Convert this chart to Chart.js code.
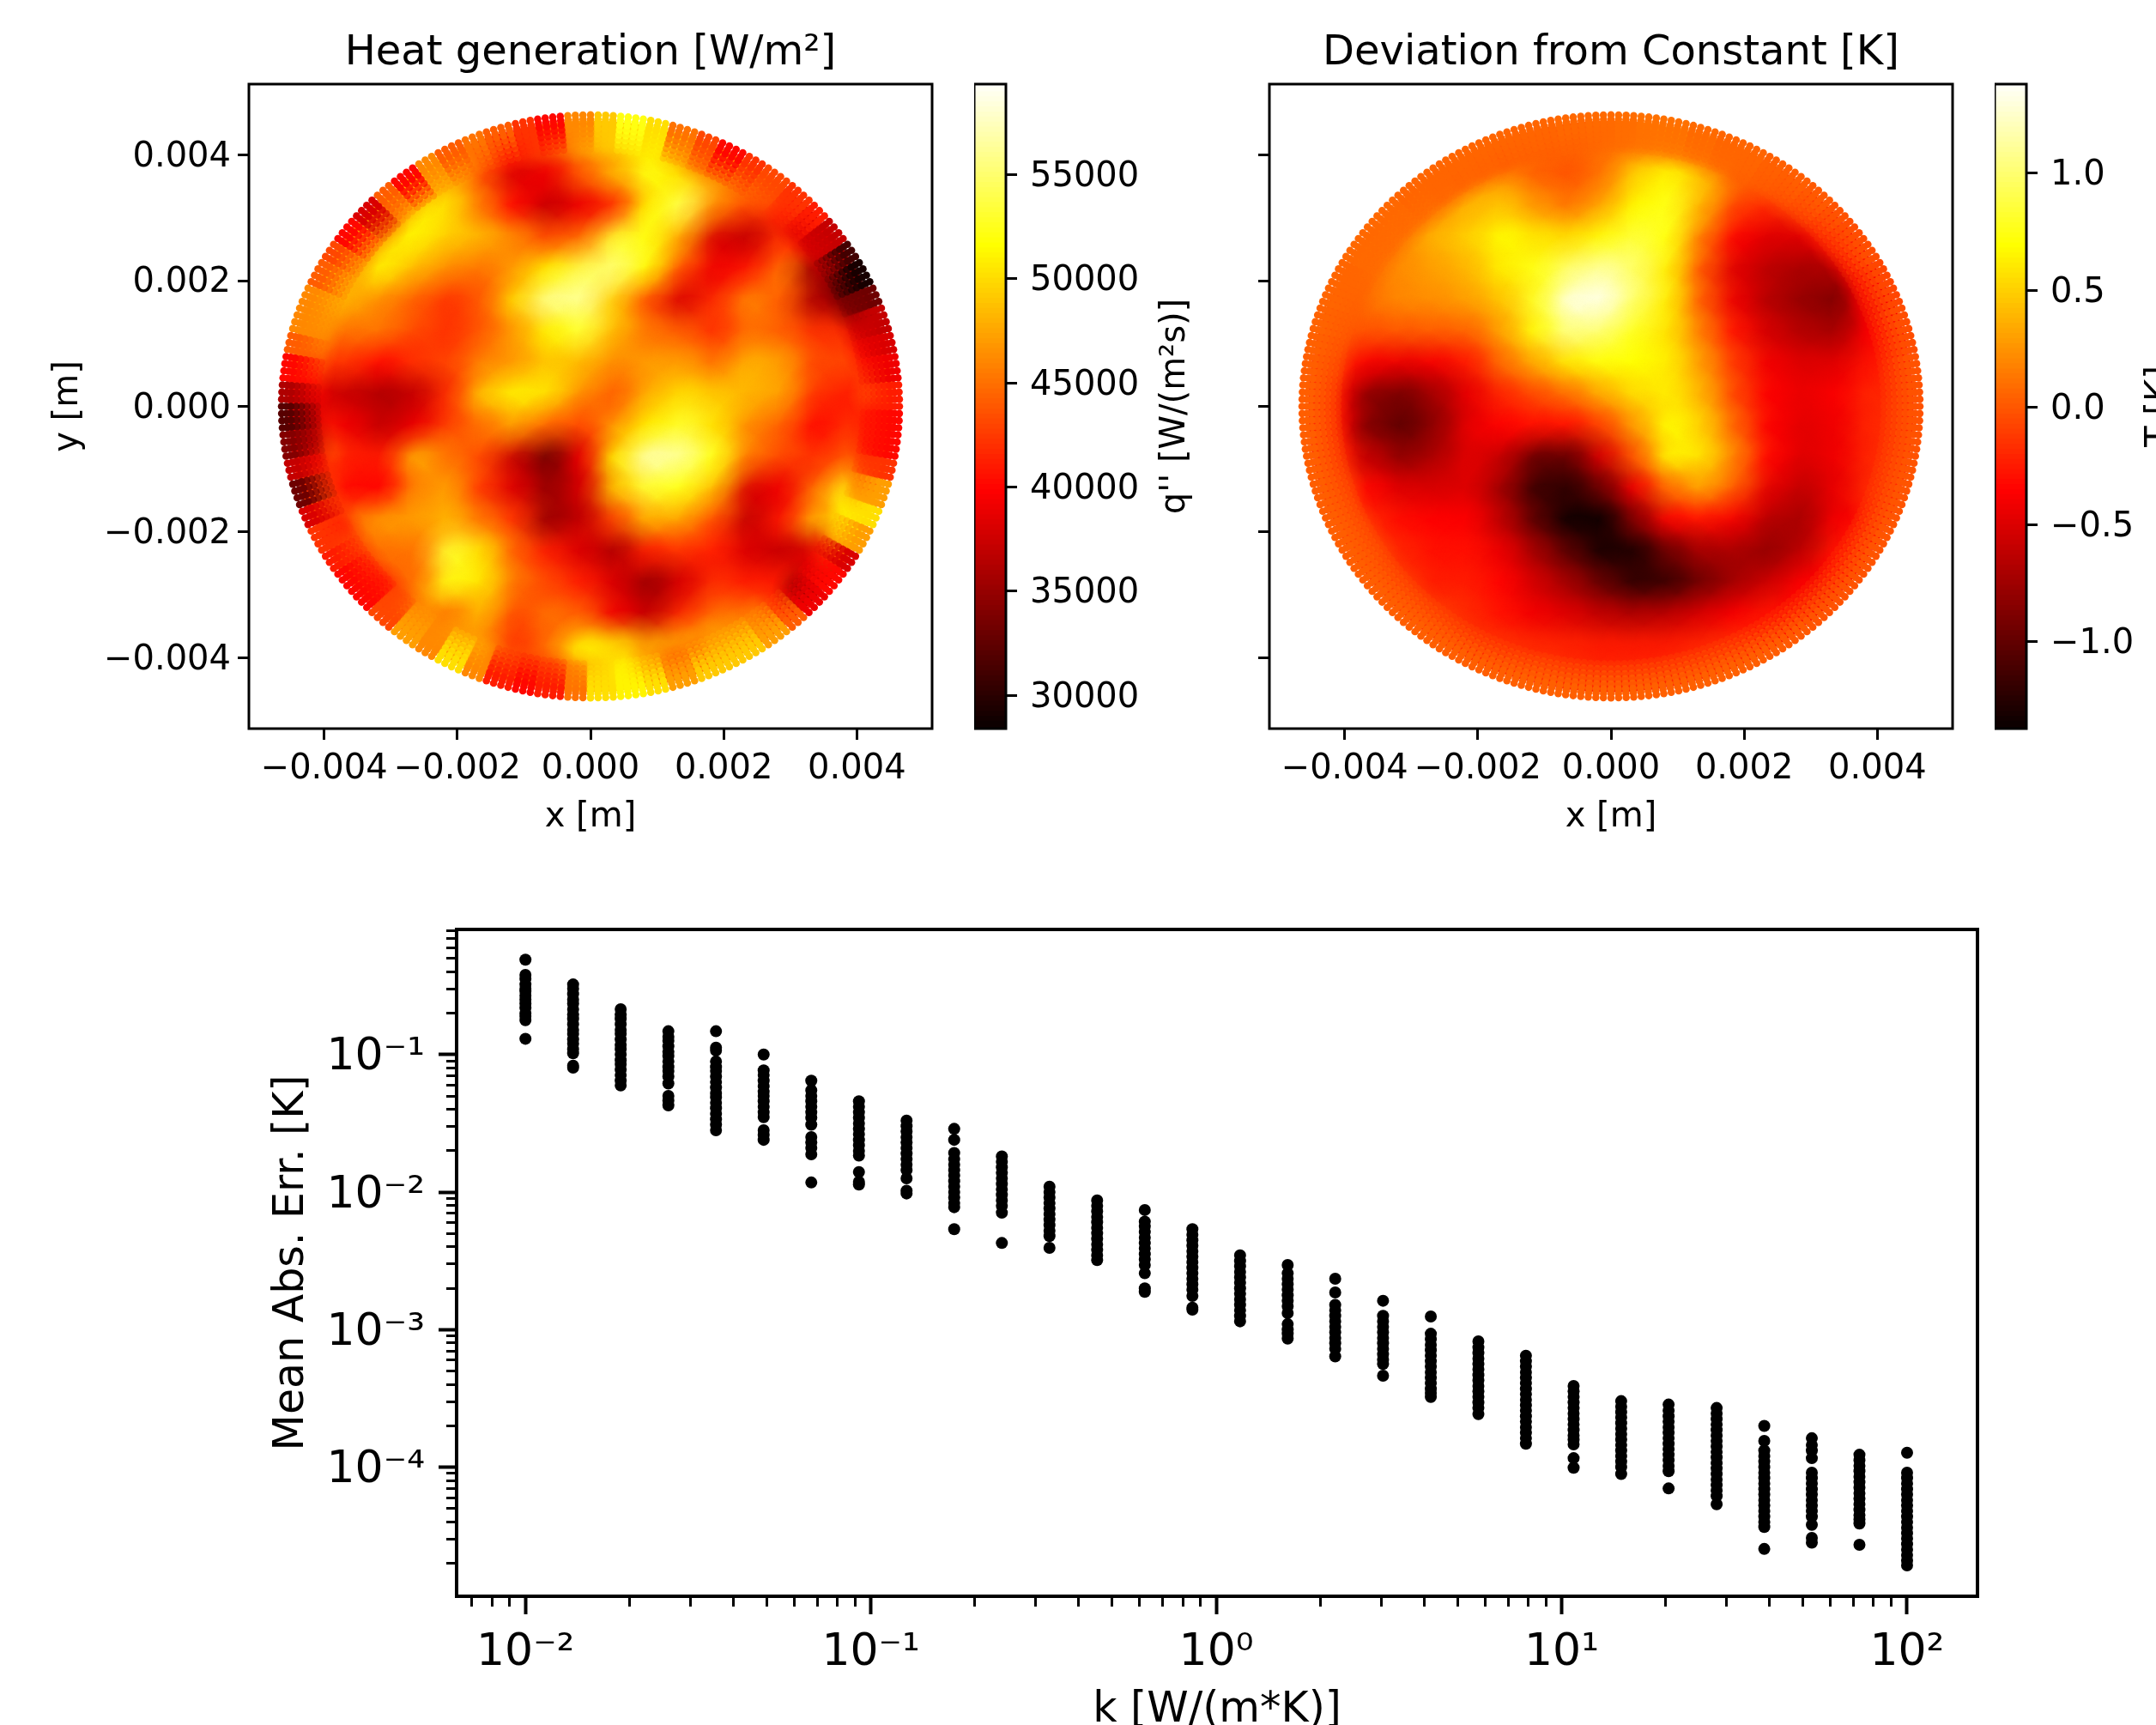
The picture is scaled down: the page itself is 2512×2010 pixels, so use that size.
<!DOCTYPE html>
<html lang="en">
<head>
<meta charset="UTF-8">
<title>Heat generation and conductivity error</title>
<script src="https://cdn.jsdelivr.net/npm/chart.js"></script>
<style>
    html, body { margin: 0; background: #fff; overflow: hidden; width: 2512px; height: 2010px; }
    canvas { position: absolute; }
</style>
</head>
<body>
<canvas id="heat" style="left:0;top:0" width="1376" height="1000"></canvas>
<canvas id="dev" style="left:1280px;top:0" width="1194" height="1000"></canvas>
<canvas id="heatBar" style="left:1135px;top:0" width="280" height="1000"></canvas>
<canvas id="devBar" style="left:2324px;top:0" width="240" height="1000"></canvas>
<canvas id="err" style="left:0;top:1000px" width="2512" height="1060"></canvas>
<script>
// grid of the two maps, metres
const gridX = [-0.0045, -0.004, -0.0035, -0.003, -0.0025, -0.002, -0.0015, -0.001, -0.0005, 0, 0.0005, 0.001, 0.0015, 0.002, 0.0025, 0.003, 0.0035, 0.004, 0.0045];
const gridY = [0.004, 0.0035, 0.003, 0.0025, 0.002, 0.0015, 0.001, 0.0005, 0, -0.0005, -0.001, -0.0015, -0.002, -0.0025, -0.003, -0.0035, -0.004];
const _ = null;

// heat generation, W/m2 / 1000
const heatRows = [
    [_,_,_,_,_,47,46,42,43,47,48,51,50,46,_,_,_,_,_],
    [_,_,_,_,50,48,43,38,39,44,48,52,50,47,44,_,_,_,_],
    [_,_,_,47,51,50,45,40,37,39,42,51,54,46,43,42,_,_,_],
    [_,_,45,50,51,49,48,46,43,45,53,52,47,38,37,42,40,_,_],
    [_,_,48,51,48,46,45,47,51,54,55,51,43,39,41,45,35,_,_],
    [_,45,48,46,44,42,44,50,56,56,49,43,38,42,46,44,36,35,_],
    [_,45,45,45,43,42,44,47,51,53,48,45,44,42,45,44,42,42,_],
    [_,42,42,40,42,43,46,47,49,48,46,47,47,45,48,47,43,43,_],
    [_,38,37,36,37,42,49,51,50,46,44,48,50,49,48,47,42,41,_],
    [_,41,39,37,39,43,45,47,44,43,47,51,53,50,46,44,40,42,_],
    [_,45,41,41,48,45,43,37,33,39,51,57,56,52,45,43,42,44,_],
    [_,42,40,40,46,47,42,38,35,38,49,53,52,48,38,39,45,52,_],
    [_,_,45,47,47,48,45,42,35,37,43,48,47,43,37,41,48,_,_],
    [_,_,44,45,45,53,50,44,41,38,36,41,42,41,38,37,38,_,_],
    [_,_,_,44,45,52,50,45,43,41,38,35,38,42,41,41,_,_,_],
    [_,_,_,_,47,45,48,43,45,44,39,37,42,45,45,_,_,_,_],
    [_,_,_,_,_,48,45,42,45,51,50,47,48,49,_,_,_,_,_]
];
// rim of the heat map, every 5 degrees counter-clockwise from +x: outer edge, then just inside it
const heatRimOuter = [41,39,38,37,33,29,31,37,41,42,43,42,40,43,45,50,52,49,46,40,42,44,45,44,46,40,44,38,40,43,44,46,46,44,40,36,32,34,37,33,38,42,41,40,40,43,47,46,50,46,41,40,41,45,50,51,50,47,49,49,49,47,44,39,40,38,47,50,47,42,40,40];
const heatRimInner = [44,42,40,38,34,33,37,38,38,41,44,45,46,45,48,51,50,49,47,44,42,40,43,47,48,48,47,45,47,47,48,48,47,46,43,40,38,37,40,42,43,41,43,42,41,43,46,46,47,48,44,43,43,46,49,51,47,44,44,46,46,45,41,35,38,42,50,51,46,43,41,41];

// deviation from constant, K
const devRows = [
    [_,_,_,_,_,.15,.15,.08,.05,.12,.25,.3,.25,.1,_,_,_,_,_],
    [_,_,_,_,.15,.25,.22,.03,-.02,.12,.5,.65,.42,.1,0,_,_,_,_],
    [_,_,_,.1,.22,.38,.45,.25,.12,.35,.68,.75,.35,-.1,-.2,-.15,_,_,_],
    [_,_,.08,.22,.38,.5,.68,.58,.55,.72,.85,.72,.1,-.38,-.5,-.5,-.3,_,_],
    [_,_,.15,.22,.3,.4,.62,.75,1,1.12,.95,.6,-.05,-.5,-.65,-.72,-.7,_,_],
    [_,.05,.12,.2,.22,.3,.45,.8,1.3,1.3,.95,.6,-.02,-.45,-.68,-.8,-.88,-.45,_],
    [_,-.02,-.02,0,.02,.05,.32,.72,1.05,.98,.75,.55,.12,-.3,-.55,-.68,-.72,-.4,_],
    [_,-.2,-.4,-.45,-.4,-.25,.1,.35,.6,.7,.68,.6,.25,-.15,-.42,-.5,-.48,-.28,_],
    [_,-.4,-.85,-.92,-.72,-.45,-.2,-.05,.1,.35,.55,.6,.35,-.1,-.38,-.45,-.38,-.2,_],
    [_,-.4,-.9,-1.02,-.8,-.45,-.35,-.3,-.3,-.08,.3,.68,.48,.02,-.38,-.48,-.42,-.2,_],
    [_,-.25,-.62,-.82,-.68,-.48,-.62,-1,-1,-.5,.02,.65,.55,.15,-.35,-.5,-.42,-.2,_],
    [_,-.1,-.35,-.5,-.52,-.5,-.78,-1.18,-1.22,-.95,-.4,.1,.3,-.02,-.48,-.62,-.45,-.18,_],
    [_,_,-.2,-.32,-.36,-.38,-.65,-1.05,-1.35,-1.35,-.85,-.35,-.3,-.42,-.68,-.72,-.4,_,_],
    [_,_,-.12,-.22,-.3,-.3,-.45,-.75,-1.05,-1.3,-1.28,-.95,-.72,-.72,-.8,-.62,-.25,_,_],
    [_,_,_,-.15,-.25,-.25,-.35,-.55,-.75,-1,-1.2,-1.15,-.92,-.72,-.55,-.35,_,_,_],
    [_,_,_,_,-.12,-.2,-.3,-.42,-.5,-.62,-.68,-.62,-.5,-.38,-.25,_,_,_,_],
    [_,_,_,_,_,-.1,-.15,-.2,-.22,-.25,-.25,-.25,-.2,-.15,_,_,_,_,_]
];
const devRimOuter = [-.03,-.03,-.05,-.05,-.08,-.08,-.05,-.05,-.03,0,.02,.03,.05,.05,.07,.1,.1,.08,.07,.06,.05,.05,.05,.05,.05,.05,.05,.06,.06,.06,.05,.05,.04,.03,.02,.02,.02,.02,.02,.02,.02,.02,.02,.02,.02,.02,.02,.02,.02,.02,.03,.03,.03,.03,.03,.03,.03,.03,.03,.02,.01,0,-.02,-.03,-.03,-.02,-.02,-.02,-.02,-.02,-.03,-.03];
const devRimInner = [-.2,-.22,-.28,-.35,-.4,-.38,-.32,-.25,-.2,-.12,-.05,0,.03,.06,.1,.13,.12,.08,.06,.03,.02,.02,0,.02,.03,.05,.08,.08,.08,.08,.06,.03,0,-.04,-.08,-.14,-.16,-.16,-.15,-.12,-.1,-.08,-.08,-.1,-.12,-.12,-.14,-.16,-.2,-.2,-.18,-.16,-.18,-.2,-.2,-.2,-.2,-.2,-.22,-.25,-.3,-.35,-.38,-.4,-.36,-.32,-.28,-.25,-.2,-.18,-.18,-.18];

// colour limits and ticks
const heatLimits = [28400, 59350];
const heatTicks = [30000, 35000, 40000, 45000, 50000, 55000];
const heatTickLabels = ['30000', '35000', '40000', '45000', '50000', '55000'];
const devLimits = [-1.37, 1.38];
const devTicks = [-1, -0.5, 0, 0.5, 1];
const devTickLabels = ['−1.0', '−0.5', '0.0', '0.5', '1.0'];

const mapTicks = [-0.004, -0.002, 0, 0.002, 0.004];
const mapTickLabels = ['−0.004', '−0.002', '0.000', '0.002', '0.004'];
const mapLimits = 0.00513;

// bottom plot: conductivity and log10 of the error of each run
const kValues = [0.01, 0.01374, 0.01887, 0.02593, 0.03562, 0.04894, 0.06723, 0.09237, 0.1269, 0.1743, 0.2395, 0.329, 0.452, 0.621, 0.853, 1.172, 1.61, 2.21, 3.04, 4.18, 5.74, 7.88, 10.83, 14.87, 20.4, 28.1, 38.6, 53.0, 72.8, 100];
const errExp = [
    [-0.31,-0.42,-0.45,-0.49,-0.52,-0.54,-0.57,-0.60,-0.63,-0.66,-0.70,-0.72,-0.75,-0.885],
    [-0.49,-0.52,-0.56,-0.60,-0.63,-0.67,-0.71,-0.74,-0.78,-0.82,-0.85,-0.89,-0.92,-0.96,-0.99,-1.08,-1.095],
    [-0.67,-0.71,-0.74,-0.78,-0.82,-0.85,-0.89,-0.93,-0.96,-1.0,-1.04,-1.07,-1.11,-1.15,-1.19,-1.225],
    [-0.83,-0.87,-0.90,-0.94,-0.98,-1.01,-1.05,-1.09,-1.12,-1.16,-1.21,-1.30,-1.335,-1.37],
    [-0.83,-0.95,-0.97,-1.05,-1.09,-1.12,-1.16,-1.20,-1.24,-1.28,-1.31,-1.35,-1.39,-1.43,-1.47,-1.51,-1.55],
    [-1.0,-1.115,-1.15,-1.19,-1.23,-1.27,-1.30,-1.34,-1.38,-1.42,-1.455,-1.55,-1.585,-1.62],
    [-1.19,-1.26,-1.30,-1.34,-1.38,-1.42,-1.46,-1.51,-1.60,-1.64,-1.68,-1.725,-1.93],
    [-1.34,-1.38,-1.42,-1.46,-1.50,-1.54,-1.58,-1.62,-1.66,-1.70,-1.735,-1.855,-1.925,-1.945],
    [-1.48,-1.52,-1.56,-1.60,-1.64,-1.68,-1.72,-1.76,-1.80,-1.84,-1.90,-1.99,-2.01],
    [-1.54,-1.62,-1.715,-1.76,-1.80,-1.84,-1.88,-1.92,-1.96,-2.0,-2.04,-2.08,-2.11,-2.27],
    [-1.74,-1.78,-1.82,-1.86,-1.90,-1.94,-1.98,-2.02,-2.06,-2.10,-2.15,-2.37],
    [-1.96,-2.0,-2.04,-2.08,-2.12,-2.16,-2.20,-2.24,-2.28,-2.32,-2.405],
    [-2.06,-2.10,-2.14,-2.18,-2.22,-2.26,-2.30,-2.34,-2.38,-2.42,-2.46,-2.495],
    [-2.13,-2.215,-2.25,-2.29,-2.33,-2.37,-2.41,-2.45,-2.49,-2.53,-2.59,-2.70,-2.725],
    [-2.27,-2.31,-2.35,-2.39,-2.43,-2.47,-2.51,-2.55,-2.59,-2.63,-2.67,-2.71,-2.755,-2.84,-2.855],
    [-2.46,-2.50,-2.54,-2.58,-2.62,-2.66,-2.70,-2.74,-2.78,-2.82,-2.86,-2.90,-2.94],
    [-2.53,-2.59,-2.63,-2.67,-2.71,-2.75,-2.79,-2.83,-2.88,-2.96,-3.0,-3.03,-3.065],
    [-2.63,-2.73,-2.82,-2.86,-2.90,-2.94,-2.98,-3.02,-3.06,-3.10,-3.14,-3.195],
    [-2.79,-2.90,-2.94,-2.98,-3.02,-3.06,-3.10,-3.14,-3.18,-3.22,-3.25,-3.335],
    [-2.905,-3.03,-3.07,-3.11,-3.15,-3.19,-3.23,-3.27,-3.31,-3.35,-3.39,-3.43,-3.46,-3.49],
    [-3.085,-3.13,-3.17,-3.21,-3.25,-3.29,-3.33,-3.37,-3.41,-3.45,-3.49,-3.53,-3.57,-3.615],
    [-3.19,-3.23,-3.27,-3.31,-3.35,-3.39,-3.43,-3.47,-3.51,-3.55,-3.59,-3.63,-3.67,-3.71,-3.75,-3.79,-3.83],
    [-3.41,-3.45,-3.49,-3.53,-3.57,-3.61,-3.65,-3.69,-3.73,-3.77,-3.80,-3.835,-3.935,-4.005],
    [-3.52,-3.56,-3.60,-3.64,-3.68,-3.72,-3.76,-3.80,-3.84,-3.88,-3.92,-3.96,-4.0,-4.05],
    [-3.545,-3.59,-3.63,-3.67,-3.71,-3.75,-3.79,-3.83,-3.87,-3.91,-3.95,-3.99,-4.03,-4.155],
    [-3.57,-3.61,-3.65,-3.69,-3.73,-3.77,-3.81,-3.85,-3.89,-3.93,-3.97,-4.01,-4.05,-4.09,-4.13,-4.17,-4.21,-4.27],
    [-3.70,-3.81,-3.88,-3.92,-3.96,-4.0,-4.04,-4.08,-4.12,-4.16,-4.20,-4.24,-4.28,-4.32,-4.36,-4.40,-4.435,-4.595],
    [-3.79,-3.84,-3.88,-3.935,-4.04,-4.08,-4.12,-4.16,-4.20,-4.24,-4.28,-4.32,-4.36,-4.42,-4.515,-4.55],
    [-3.91,-3.95,-3.99,-4.03,-4.07,-4.11,-4.15,-4.19,-4.23,-4.27,-4.31,-4.35,-4.38,-4.41,-4.565],
    [-3.895,-4.04,-4.08,-4.12,-4.16,-4.20,-4.24,-4.28,-4.32,-4.36,-4.40,-4.44,-4.48,-4.52,-4.56,-4.60,-4.64,-4.68,-4.715]
];
const errTicksX = [0.01, 0.1, 1, 10, 100];
const errTickLabelsX = ['10⁻²', '10⁻¹', '10⁰', '10¹', '10²'];
const errTicksY = [0.0001, 0.001, 0.01, 0.1];
const errTickLabelsY = ['10⁻⁴', '10⁻³', '10⁻²', '10⁻¹'];

Chart.defaults.font.family = '"DejaVu Sans"';
Chart.defaults.color = '#000';
Chart.defaults.animation = false;
Chart.defaults.responsive = false;
Chart.defaults.plugins.legend.display = false;
Chart.defaults.plugins.tooltip.enabled = false;

// matplotlib "hot"
function hot(t) {
    t = Math.min(1, Math.max(0, t));
    const r = Math.min(1, 0.0416 + t * (1 - 0.0416) / 0.365);
    const g = Math.min(1, Math.max(0, (t - 0.365) / 0.381));
    const b = Math.min(1, Math.max(0, (t - 0.746) / 0.254));
    return [r, g, b].map(c => Math.round(c * 255));
}
const css = (c, a) => `rgba(${c[0]},${c[1]},${c[2]},${a})`;

// soft round stamp, so neighbouring cells melt into each other
function softStamp(color, radius) {
    const c = document.createElement('canvas');
    c.width = c.height = radius * 2;
    const ctx = c.getContext('2d');
    const g = ctx.createRadialGradient(radius, radius, 0, radius, radius, radius);
    g.addColorStop(0, css(color, 1));
    g.addColorStop(0.35, css(color, 0.8));
    g.addColorStop(0.7, css(color, 0.25));
    g.addColorStop(1, css(color, 0));
    ctx.fillStyle = g;
    ctx.fillRect(0, 0, radius * 2, radius * 2);
    return c;
}

const framePlugin = {
    id: 'frame',
    afterDatasetsDraw(chart, args, opts) {
        const a = chart.chartArea, ctx = chart.ctx;
        ctx.save();
        ctx.strokeStyle = '#000';
        ctx.lineWidth = opts.width || 3;
        ctx.strokeRect(a.left, a.top, a.right - a.left, a.bottom - a.top);
        ctx.restore();
    }
};

// keep the inner cells inside the disc, the rim dots go over them
const discClip = {
    id: 'discClip',
    beforeDatasetDraw(chart, args) {
        if (!chart.data.datasets[args.index].inner) return;
        const x = chart.scales.x, y = chart.scales.y, r = 0.00455, ctx = chart.ctx;
        ctx.save();
        ctx.beginPath();
        ctx.ellipse(x.getPixelForValue(0), y.getPixelForValue(0),
            x.getPixelForValue(r) - x.getPixelForValue(0),
            y.getPixelForValue(0) - y.getPixelForValue(r), 0, 0, Math.PI * 2);
        ctx.clip();
    },
    afterDatasetDraw(chart, args) {
        if (chart.data.datasets[args.index].inner) chart.ctx.restore();
    }
};

function mapChart(id, title, rows, rimOuter, rimInner, limits, showY, paddingRight) {
    const norm = v => (v - limits[0]) / (limits[1] - limits[0]);
    const cells = [];
    rows.forEach((row, j) => row.forEach((v, i) => {
        if (v !== null) cells.push({ x: gridX[i], y: gridY[j], color: hot(norm(v)), size: 56 });
    }));
    // readings just inside the rim join the grid as smaller cells
    const rimCells = rimInner.map((v, i) => {
        const a = (i + 0.5) / rimInner.length * Math.PI * 2;
        return { x: 0.00432 * Math.cos(a), y: 0.00432 * Math.sin(a), color: hot(norm(v)), size: 36 };
    });
    const soft = cells.concat(rimCells);

    // 256 spokes around the rim, each a row of dots fading inwards
    const rimPts = [], rimCol = [];
    [[0.0041, 0.2], [0.00418, 0.35], [0.00426, 0.5], [0.00434, 0.7], [0.00442, 0.85],
     [0.0045, 1], [0.00457, 1], [0.00464, 1]].forEach(([r, alpha]) => {
        for (let s = 0; s < 256; s++) {
            const a = s / 256 * Math.PI * 2;
            rimPts.push({ x: r * Math.cos(a), y: r * Math.sin(a) });
            rimCol.push(css(hot(norm(rimOuter[Math.floor(s / 256 * rimOuter.length)])), alpha));
        }
    });

    const fontTick = { size: 40 };
    return new Chart(document.getElementById(id), {
        type: 'scatter',
        plugins: [framePlugin, discClip],
        data: {
            datasets: [
                { data: rimPts, pointRadius: 4.3, pointBorderWidth: 0, pointBackgroundColor: rimCol },
                { inner: true, data: soft, pointRadius: 1, pointBorderWidth: 0,
                  pointStyle: soft.map(c => softStamp(c.color, c.size)) },
                { inner: true, data: soft, pointRadius: soft.map(c => c.size === 56 ? 29 : 24), pointBorderWidth: 0, pointStyle: 'rect',
                  pointBackgroundColor: soft.map(c => css(c.color, 1)) }
            ]
        },
        options: {
            layout: { padding: { right: paddingRight } },
            scales: {
                top: {
                    type: 'linear', axis: 'x', position: 'top', min: -mapLimits, max: mapLimits,
                    afterFit: s => { s.height = 98; },
                    border: { display: false },
                    grid: { display: false },
                    ticks: { display: false },
                    title: { display: true, text: title, font: { size: 48 }, padding: { top: 34, bottom: 0 } }
                },
                x: {
                    type: 'linear', min: -mapLimits, max: mapLimits,
                    afterBuildTicks: s => { s.ticks = mapTicks.map(v => ({ value: v })); },
                    afterFit: s => { s.height = 151; },
                    border: { display: false },
                    grid: { drawOnChartArea: false, tickLength: 13, tickWidth: 3, tickColor: '#000' },
                    ticks: { font: fontTick, padding: 11, autoSkip: false, maxRotation: 0, callback: (v, i) => mapTickLabels[i] },
                    title: { display: true, text: 'x [m]', font: fontTick, padding: { top: 0, bottom: 23 } }
                },
                y: {
                    type: 'linear', min: -mapLimits, max: mapLimits,
                    afterBuildTicks: s => { s.ticks = mapTicks.map(v => ({ value: v })); },
                    afterFit: s => { s.width = showY ? 290 : 199; },
                    border: { display: false },
                    grid: { drawOnChartArea: false, tickLength: 13, tickWidth: 3, tickColor: '#000' },
                    ticks: { display: showY, font: fontTick, padding: 8, labelOffset: 3, autoSkip: false, callback: (v, i) => mapTickLabels[i] },
                    title: { display: showY, text: 'y [m]', font: fontTick, padding: { top: 56, bottom: 0 } }
                }
            }
        }
    });
}

function colorBar(id, limits, ticks, labels, label, labelX) {
    const levels = 128;
    const datasets = [];
    for (let i = 0; i < levels; i++) {
        const lo = limits[0] + (limits[1] - limits[0]) * i / levels;
        const hi = limits[0] + (limits[1] - limits[0]) * (i + 1.5) / levels;
        datasets.push({ data: [[lo, Math.min(hi, limits[1])]], backgroundColor: css(hot((i + 0.5) / levels), 1),
            barPercentage: 1, categoryPercentage: 1, borderWidth: 0 });
    }
    const sideLabel = {
        id: 'sideLabel',
        afterDraw(chart) {
            const ctx = chart.ctx, a = chart.chartArea;
            ctx.save();
            ctx.translate(labelX, (a.top + a.bottom) / 2);
            ctx.rotate(-Math.PI / 2);
            ctx.font = '40px "DejaVu Sans"';
            ctx.fillStyle = '#000';
            ctx.textAlign = 'center';
            ctx.textBaseline = 'middle';
            ctx.fillText(label, 0, 0);
            ctx.restore();
        }
    };
    const canvas = document.getElementById(id);
    return new Chart(canvas, {
        type: 'bar',
        plugins: [framePlugin, sideLabel],
        data: { labels: [''], datasets },
        options: {
            layout: { padding: { top: 98, bottom: 151 } },
            scales: {
                x: { display: false, stacked: true },
                y: {
                    position: 'right', min: limits[0], max: limits[1],
                    afterBuildTicks: s => { s.ticks = ticks.map(v => ({ value: v })); },
                    afterFit: s => { s.width = canvas.width - 37; },
                    border: { display: false },
                    grid: { drawOnChartArea: false, tickLength: 13, tickWidth: 3, tickColor: '#000' },
                    ticks: { font: { size: 40 }, padding: 15, labelOffset: 3, autoSkip: false, callback: (v, i) => labels[i] }
                }
            }
        }
    });
}

mapChart('heat', 'Heat generation [W/m²]', heatRows.map(r => r.map(v => v === null ? null : v * 1000)), heatRimOuter.map(v => v * 1000), heatRimInner.map(v => v * 1000), heatLimits, true, 290);
mapChart('dev', 'Deviation from Constant [K]', devRows, devRimOuter, devRimInner, devLimits, false, 199);
colorBar('heatBar', heatLimits, heatTicks, heatTickLabels, 'q\'\' [W/(m²s)]', 235);
colorBar('devBar', devLimits, devTicks, devTickLabels, 'T [K]', 194);

// error plot
const minorTicks = (lo, hi) => {
    const out = [];
    for (let e = -6; e <= 3; e++) for (let m = 2; m < 10; m++) {
        const v = m * Math.pow(10, e);
        if (v > lo && v < hi) out.push({ value: v });
    }
    return out;
};
const errPoints = [];
kValues.forEach((k, i) => errExp[i].forEach(e => errPoints.push({ x: k, y: Math.pow(10, e) })));
const errX = [0.00632, 159.9];
const errY = [1.15e-5, 0.813];
const minorGrid = { drawOnChartArea: false, tickLength: 12, tickWidth: 3, tickColor: '#000' };
const majorGrid = { drawOnChartArea: false, tickLength: 21, tickWidth: 4, tickColor: '#000' };
new Chart(document.getElementById('err'), {
    type: 'scatter',
    plugins: [framePlugin],
    data: { datasets: [{ data: errPoints, pointRadius: 7, pointBorderWidth: 0, pointBackgroundColor: '#000' }] },
    options: {
        layout: { padding: { top: 83, right: 208 } },
        plugins: { frame: { width: 4 } },
        scales: {
            x: {
                type: 'logarithmic', min: errX[0], max: errX[1], weight: 1,
                afterBuildTicks: s => { s.ticks = errTicksX.map(v => ({ value: v })); },
                afterFit: s => { s.height = 200; },
                border: { display: false }, grid: majorGrid,
                ticks: { font: { size: 52 }, padding: 14, autoSkip: false, maxRotation: 0, callback: (v, i) => errTickLabelsX[i] },
                title: { display: true, text: 'k [W/(m*K)]', font: { size: 49 }, padding: { top: 0, bottom: 37 } }
            },
            xMinor: {
                type: 'logarithmic', axis: 'x', position: 'bottom', min: errX[0], max: errX[1], weight: 0,
                afterBuildTicks: s => { s.ticks = minorTicks(errX[0], errX[1]); },
                afterFit: s => { s.height = 0; },
                border: { display: false }, grid: minorGrid, ticks: { display: false }
            },
            y: {
                type: 'logarithmic', min: errY[0], max: errY[1], weight: 1,
                afterBuildTicks: s => { s.ticks = errTicksY.map(v => ({ value: v })); },
                afterFit: s => { s.width = 532; },
                border: { display: false }, grid: majorGrid,
                ticks: { font: { size: 52 }, padding: 16, labelOffset: 4, autoSkip: false, callback: (v, i) => errTickLabelsY[i] },
                title: { display: true, text: 'Mean Abs. Err. [K]', font: { size: 49 }, padding: { top: 311, bottom: 0 } }
            },
            yMinor: {
                type: 'logarithmic', axis: 'y', position: 'left', min: errY[0], max: errY[1], weight: 0,
                afterBuildTicks: s => { s.ticks = minorTicks(errY[0], errY[1]); },
                afterFit: s => { s.width = 0; },
                border: { display: false }, grid: minorGrid, ticks: { display: false }
            }
        }
    }
});
</script>
</body>
</html>
